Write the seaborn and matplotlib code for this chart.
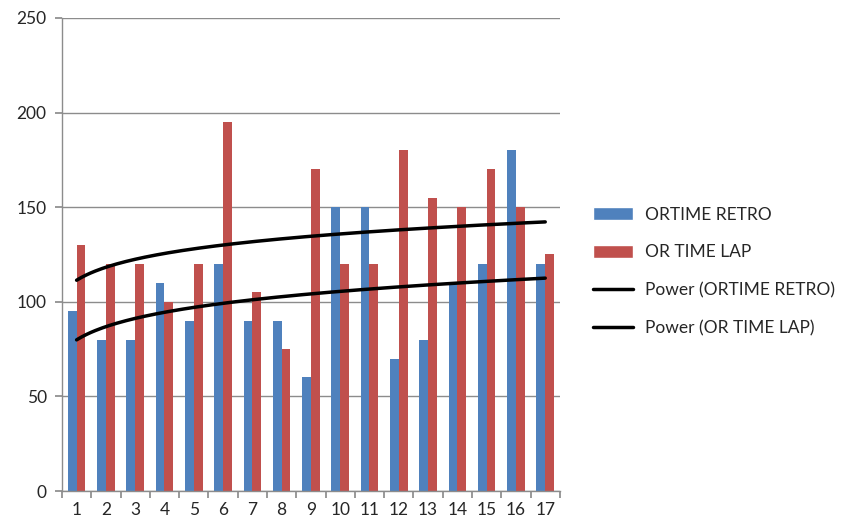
import numpy as np
import pandas as pd
import matplotlib
matplotlib.use("Agg")
import matplotlib.pyplot as plt
from matplotlib.lines import Line2D
from matplotlib.patches import Patch
import seaborn as sns

sessions = list(range(1, 18))
ortime_retro = [95, 80, 80, 110, 90, 120, 90, 90, 60, 150, 150, 70, 80, 110, 120, 180, 120]
or_time_lap = [130, 120, 120, 100, 120, 195, 105, 75, 170, 120, 120, 180, 155, 150, 170, 150, 125]
series_names = ["ORTIME RETRO", "OR TIME LAP"]
colors = ["#4F81BD", "#C0504D"]

sns.set_theme(style="white")
plt.rcParams["font.family"] = ["Lato", "DejaVu Sans"]

df = pd.DataFrame({
    "session": sessions * 2,
    "value": ortime_retro + or_time_lap,
    "series": [series_names[0]] * 17 + [series_names[1]] * 17,
})

fig = plt.figure(figsize=(8.57, 5.28), dpi=100)
ax = fig.add_axes([0.0723, 0.070, 0.581, 0.896])

sns.barplot(data=df, x="session", y="value", hue="series", palette=colors,
            width=0.6, ax=ax, legend=False, edgecolor="none", saturation=1)


def power_fit(x, y):
    # excel style power trendline: fit in log-log space
    b, lna = np.polyfit(np.log(x), np.log(y), 1)
    return np.exp(lna), b


x = np.array(sessions, dtype=float)
xs = np.linspace(1, 17, 200)
for vals in (ortime_retro, or_time_lap):
    a, b = power_fit(x, np.array(vals, dtype=float))
    ax.plot(xs - 1, a * xs ** b, color="black", lw=2.5, zorder=5)

ax.set_ylim(0, 250)
ax.set_xlim(-0.5, 16.5)
ax.set_yticks(range(0, 251, 50))
ax.yaxis.grid(True, color="#8C8C8C", lw=1)
ax.set_axisbelow(True)

ax.set_xticks(np.arange(-0.5, 17, 1))
ax.set_xticklabels([])
ax.set_xticks(np.arange(0, 17), minor=True)
ax.set_xticklabels([str(s) for s in sessions], minor=True)
ax.tick_params(axis="x", which="major", length=5, color="#8C8C8C", direction="out", bottom=True)
ax.tick_params(axis="x", which="minor", length=0, labelsize=12.5, pad=8)
ax.tick_params(axis="y", length=5, color="#8C8C8C", direction="out", left=True, labelsize=12.5, pad=6)

for s in ("top", "right"):
    ax.spines[s].set_visible(False)
for s in ("left", "bottom"):
    ax.spines[s].set_color("#8C8C8C")
    ax.spines[s].set_linewidth(1)

ax.set_xlabel("")
ax.set_ylabel("")

handles = [
    Patch(facecolor=colors[0], label=series_names[0]),
    Patch(facecolor=colors[1], label=series_names[1]),
    Line2D([], [], color="black", lw=2.5, label="Power (ORTIME RETRO)"),
    Line2D([], [], color="black", lw=2.5, label="Power (OR TIME LAP)"),
]
fig.legend(handles=handles, loc="center left", bbox_to_anchor=(0.692, 0.486),
           frameon=False, fontsize=12.5, labelspacing=1.25, handlelength=2.3,
           handleheight=0.8, handletextpad=0.7, borderpad=0, borderaxespad=0)

fig.savefig("out.png", dpi=100)
